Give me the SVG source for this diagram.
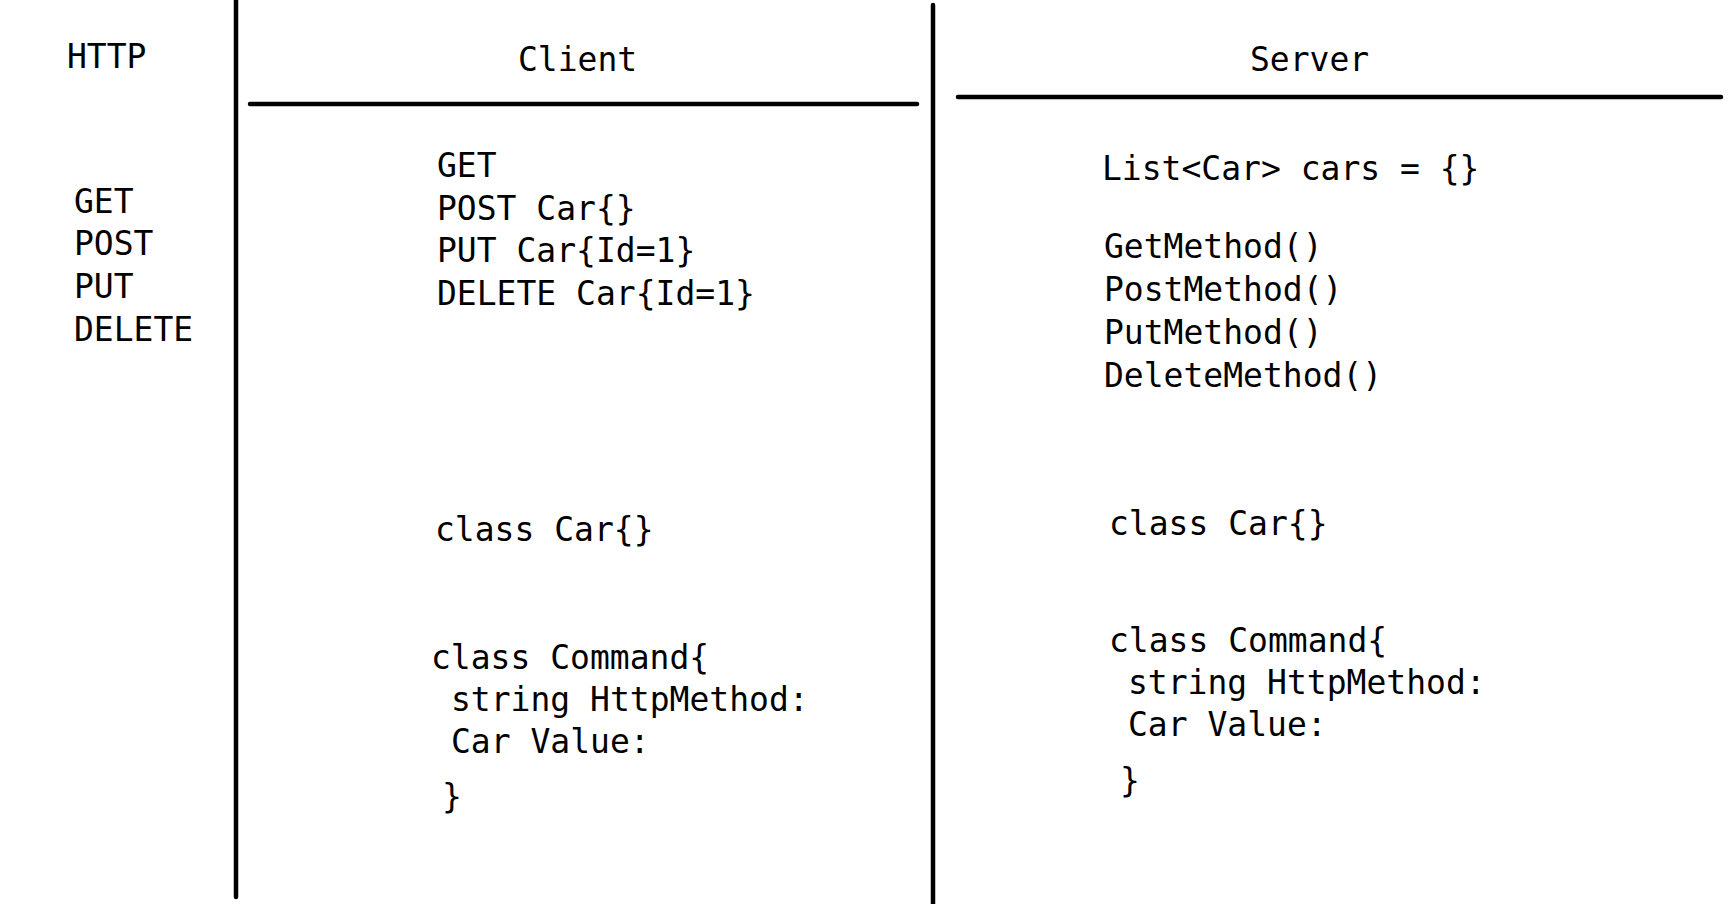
<svg xmlns="http://www.w3.org/2000/svg" width="1732" height="904" viewBox="0 0 1732 904">
<style>
.t{font-family:"DejaVu Sans Mono","Liberation Mono",monospace;font-size:33px;fill:#000}
.ln{stroke:#000;stroke-width:4.5;stroke-linecap:round;fill:none}
</style>
<rect x="0" y="0" width="1732" height="904" fill="#fff"/>
<g id="connectors">
<line class="ln" x1="236" y1="0" x2="236" y2="897"/>
<line class="ln" x1="933" y1="5" x2="933" y2="906"/>
<line class="ln" x1="250" y1="104" x2="917" y2="104"/>
<line class="ln" x1="958" y1="97" x2="1721" y2="97"/>
</g>
<g id="http">
<text class="t" x="67" y="68">HTTP</text>
<text class="t" x="74" y="213">GET</text>
<text class="t" x="74" y="255">POST</text>
<text class="t" x="74" y="298">PUT</text>
<text class="t" x="74" y="341">DELETE</text>
</g>
<g id="client">
<text class="t" x="518" y="71">Client</text>
<text class="t" x="437" y="177">GET</text>
<text class="t" x="437" y="220">POST Car{}</text>
<text class="t" x="437" y="262">PUT Car{Id=1}</text>
<text class="t" x="437" y="305">DELETE Car{Id=1}</text>
<text class="t" x="435" y="541">class Car{}</text>
<text class="t" x="431" y="669">class Command{</text>
<text class="t" x="451" y="711">string HttpMethod:</text>
<text class="t" x="451" y="753">Car Value:</text>
<text class="t" x="442" y="808">}</text>
</g>
<g id="server">
<text class="t" x="1250" y="71">Server</text>
<text class="t" x="1102" y="180">List&lt;Car&gt; cars = {}</text>
<text class="t" x="1104" y="258">GetMethod()</text>
<text class="t" x="1104" y="301">PostMethod()</text>
<text class="t" x="1104" y="344">PutMethod()</text>
<text class="t" x="1104" y="387">DeleteMethod()</text>
<text class="t" x="1109" y="535">class Car{}</text>
<text class="t" x="1109" y="652">class Command{</text>
<text class="t" x="1128" y="694">string HttpMethod:</text>
<text class="t" x="1128" y="736">Car Value:</text>
<text class="t" x="1120" y="792">}</text>
</g>
</svg>
